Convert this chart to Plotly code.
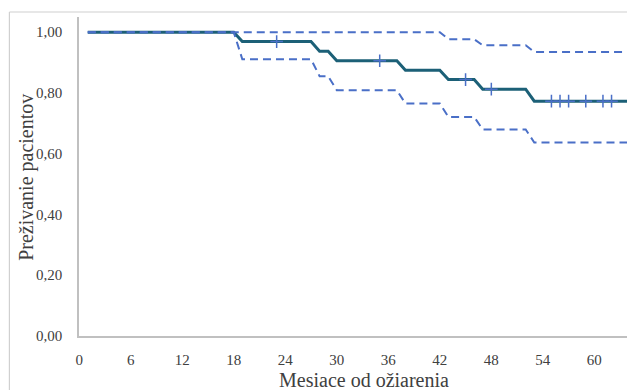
import plotly.graph_objects as go

# Monthly Kaplan-Meier survival estimate (months since irradiation)
months = [1, 18, 19, 27, 28, 29, 30, 37, 38, 42, 43, 46, 47, 52, 53, 66]
survival = [1.0, 1.0, 0.969, 0.969, 0.9375, 0.9375, 0.906, 0.906, 0.875, 0.875, 0.844, 0.844, 0.8125, 0.8125, 0.773, 0.773]

# Upper 95% confidence bound
upper_months = [1, 42, 43, 46, 47, 52, 53, 66]
upper = [1.0, 1.0, 0.977, 0.977, 0.957, 0.957, 0.935, 0.935]

# Lower 95% confidence bound
lower_months = [1, 18, 19, 27, 28, 29, 30, 37, 38, 42, 43, 46, 47, 52, 53, 66]
lower = [1.0, 1.0, 0.911, 0.911, 0.855, 0.855, 0.809, 0.809, 0.765, 0.765, 0.721, 0.721, 0.680, 0.680, 0.637, 0.637]

# Censored observations
censor_months = [23, 35, 45, 48, 55, 56, 57, 59, 61, 62]
censor_surv = [0.969, 0.906, 0.844, 0.8125, 0.773, 0.773, 0.773, 0.773, 0.773, 0.773]

x_ticks = [0, 6, 12, 18, 24, 30, 36, 42, 48, 54, 60]
y_ticks = [0, 0.2, 0.4, 0.6, 0.8, 1.0]

teal = "#1c6077"
blue = "#4a6fc7"
dash = "8px,5px"

fig = go.Figure()
fig.add_trace(go.Scatter(x=months, y=survival, mode="lines",
                         line=dict(color=teal, width=3), showlegend=False))
fig.add_trace(go.Scatter(x=upper_months, y=upper, mode="lines",
                         line=dict(color=blue, width=2, dash=dash), showlegend=False))
fig.add_trace(go.Scatter(x=lower_months, y=lower, mode="lines",
                         line=dict(color=blue, width=2, dash=dash), showlegend=False))
fig.add_trace(go.Scatter(x=censor_months, y=censor_surv, mode="markers",
                         marker=dict(symbol="cross-thin-open", size=9, color=blue,
                                     line=dict(color=blue, width=1.5)),
                         showlegend=False))

font_family = "Liberation Serif, serif"
txt_color = "#404040"
fig.update_layout(
    width=627, height=390,
    margin=dict(l=79, r=0, t=17, b=54, autoexpand=False),
    paper_bgcolor="white", plot_bgcolor="white",
    separators=", ",
    font=dict(family=font_family, size=15, color=txt_color),
    xaxis=dict(range=[-0.02, 63.8], tickvals=x_ticks, showgrid=False, zeroline=False,
               showline=True, linecolor="#c0c0c0", linewidth=1.5,
               ticks="outside", ticklen=9, tickcolor="rgba(0,0,0,0)",
               automargin=False,
               tickfont=dict(family=font_family, size=15, color=txt_color)),
    yaxis=dict(range=[0, 1.05], tickvals=y_ticks, tickformat=".2f", showgrid=False,
               zeroline=False, showline=True, linecolor="#c0c0c0", linewidth=1.5,
               ticks="outside", ticklen=12, tickcolor="rgba(0,0,0,0)",
               automargin=False,
               tickfont=dict(family=font_family, size=15, color=txt_color)),
    annotations=[
        dict(text="Mesiace od ožiarenia", xref="paper", yref="paper",
             x=0.52, y=-0.138, xanchor="center", yanchor="middle", showarrow=False,
             font=dict(family=font_family, size=20, color=txt_color)),
        dict(text="Preživanie pacientov", xref="paper", yref="paper",
             x=-0.096, y=0.497, xanchor="center", yanchor="middle", showarrow=False,
             textangle=-90,
             font=dict(family=font_family, size=20, color=txt_color)),
    ],
    shapes=[
        dict(type="line", xref="paper", yref="paper", x0=-0.127, x1=1.2,
             y0=1.0157, y1=1.0157, line=dict(color="#d0d0d0", width=1.2)),
        dict(type="line", xref="paper", yref="paper", x0=-0.127, x1=-0.127,
             y0=1.0157, y1=-0.3, line=dict(color="#d0d0d0", width=1.2)),
    ],
)

fig.write_html("out.html", config={"displayModeBar": False},
               post_script="document.body.style.margin='0';")
